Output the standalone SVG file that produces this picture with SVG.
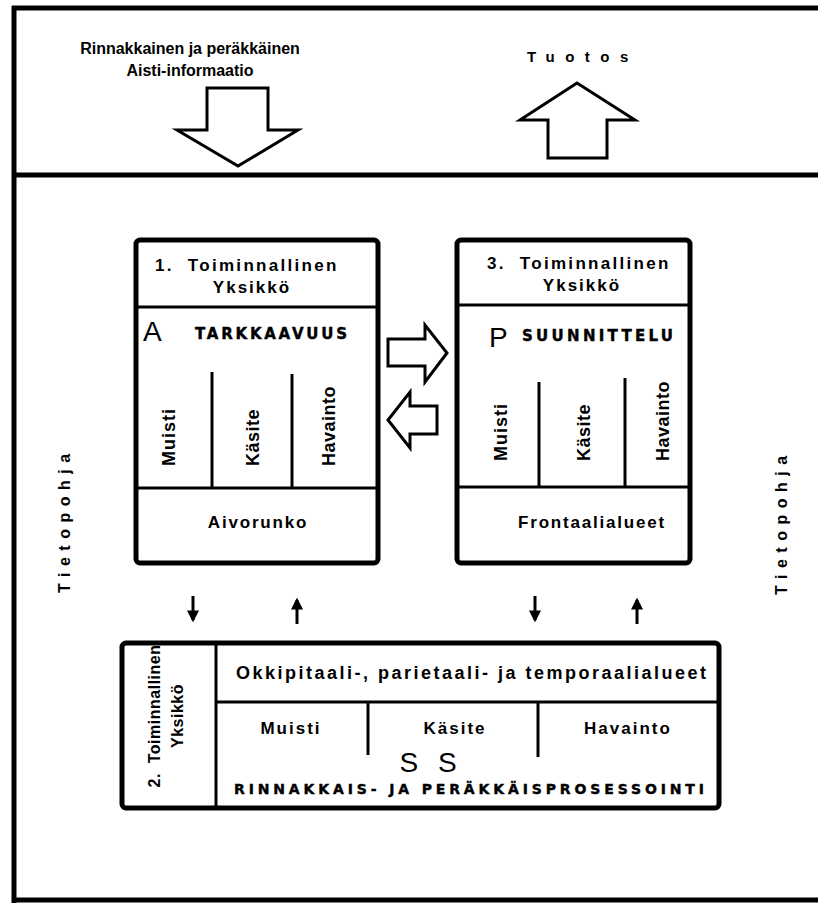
<svg xmlns="http://www.w3.org/2000/svg" width="818" height="903" viewBox="0 0 818 903">
<style>
.t{font-family:"Liberation Sans",Arial,sans-serif;fill:#000}
.b{font-weight:bold}
.k{font-family:"DejaVu Sans","Liberation Sans",sans-serif;font-weight:bold;fill:#000;stroke:#000;stroke-width:0.4}
.frame{fill:none;stroke:#000;stroke-width:5}
.box{fill:#fff;stroke:#000;stroke-width:5}
.div{stroke:#000;stroke-width:3;fill:none}
.hollow{fill:#fff;stroke:#000;stroke-width:3;stroke-linejoin:miter}
.conn{stroke:#000;stroke-width:3;fill:none}
</style>
<defs>
<marker id="ah" viewBox="0 0 10 10" refX="8" refY="5" markerWidth="4" markerHeight="4.5" orient="auto"><path d="M0,0 L10,5 L0,10 z" fill="#000"/></marker>
</defs>
<rect width="818" height="903" fill="#fff"/>
<g id="frame">
<line class="frame" x1="12" y1="8" x2="818" y2="8"/>
<line class="frame" x1="14" y1="6" x2="14" y2="903"/>
<line class="frame" x1="12" y1="175" x2="818" y2="175"/>
<line class="frame" x1="12" y1="900" x2="818" y2="900"/>
</g>
<g id="input">
<text class="t b" x="190" y="54" font-size="16" text-anchor="middle">Rinnakkainen ja peräkkäinen</text>
<text class="t b" x="190" y="76" font-size="16" text-anchor="middle">Aisti-informaatio</text>
<path class="hollow" d="M207,88 H268 V130 H298 L238,166 L177,130 H207 Z"/>
</g>
<g id="output">
<text class="t b" x="527" y="62" font-size="15" letter-spacing="10.5">Tuotos</text>
<path class="hollow" d="M548,158 V120 H520 L577,83 L635,120 H607 V158 Z"/>
</g>
<g id="tietopohja-left">
<text class="t b" font-size="16" letter-spacing="6.5" transform="translate(70,593) rotate(-90)">Tietopohja</text>
</g>
<g id="tietopohja-right">
<text class="t b" font-size="16" letter-spacing="6.5" transform="translate(787,595) rotate(-90)">Tietopohja</text>
</g>
<g id="unit1">
<rect class="box" x="136" y="240" width="242" height="323" rx="4"/>
<line class="div" x1="136" y1="307" x2="378" y2="307"/>
<line class="div" x1="136" y1="488" x2="378" y2="488"/>
<line class="div" x1="212" y1="372" x2="212" y2="488"/>
<line class="div" x1="292" y1="374" x2="292" y2="488"/>
<text class="t b" x="155" y="271" font-size="17" letter-spacing="2.3" xml:space="preserve">1.  Toiminnallinen</text>
<text class="t b" x="252" y="293" font-size="17" letter-spacing="2" text-anchor="middle">Yksikkö</text>
<text class="t" x="143" y="341" font-size="28">A</text>
<text class="k" x="195" y="339" font-size="15" textLength="152" lengthAdjust="spacing">TARKKAAVUUS</text>
<text class="t b" font-size="18" letter-spacing="1" transform="translate(175,466) rotate(-90)">Muisti</text>
<text class="t b" font-size="18" letter-spacing="0.5" transform="translate(259,466) rotate(-90)">Käsite</text>
<text class="t b" font-size="18" letter-spacing="0.5" transform="translate(335,466) rotate(-90)">Havainto</text>
<text class="t b" x="258" y="528" font-size="17" letter-spacing="1.8" text-anchor="middle">Aivorunko</text>
</g>
<g id="unit3">
<rect class="box" x="457" y="240" width="233" height="323" rx="4"/>
<line class="div" x1="457" y1="305" x2="690" y2="305"/>
<line class="div" x1="457" y1="487" x2="690" y2="487"/>
<line class="div" x1="539" y1="382" x2="539" y2="487"/>
<line class="div" x1="625" y1="378" x2="625" y2="487"/>
<text class="t b" x="487" y="269" font-size="17" letter-spacing="2.3" xml:space="preserve">3.  Toiminnallinen</text>
<text class="t b" x="582" y="291" font-size="17" letter-spacing="2" text-anchor="middle">Yksikkö</text>
<text class="t" x="489" y="347" font-size="28">P</text>
<text class="k" x="522" y="341" font-size="15" textLength="151" lengthAdjust="spacing">SUUNNITTELU</text>
<text class="t b" font-size="18" letter-spacing="1" transform="translate(507,461) rotate(-90)">Muisti</text>
<text class="t b" font-size="18" letter-spacing="0.5" transform="translate(590,461) rotate(-90)">Käsite</text>
<text class="t b" font-size="18" letter-spacing="0.5" transform="translate(669,461) rotate(-90)">Havainto</text>
<text class="t b" x="592" y="528" font-size="17" letter-spacing="1.8" text-anchor="middle">Frontaalialueet</text>
</g>
<g id="unit2">
<rect class="box" x="122" y="643" width="597" height="165" rx="4"/>
<line class="div" x1="216" y1="643" x2="216" y2="808"/>
<line class="div" x1="216" y1="702" x2="719" y2="702"/>
<line class="div" x1="368" y1="702" x2="368" y2="755"/>
<line class="div" x1="538" y1="702" x2="538" y2="757"/>
<text class="t b" font-size="16" letter-spacing="0.5" text-anchor="middle" transform="translate(160,716) rotate(-90)" xml:space="preserve"><tspan x="0" y="0">2.  Toiminnallinen</tspan><tspan x="0" y="23">Yksikkö</tspan></text>
<text class="t b" x="236" y="679" font-size="18" textLength="470" lengthAdjust="spacing">Okkipitaali-, parietaali- ja temporaalialueet</text>
<text class="t b" x="291" y="734" font-size="17" letter-spacing="2" text-anchor="middle">Muisti</text>
<text class="t b" x="455" y="734" font-size="17" letter-spacing="2" text-anchor="middle">Käsite</text>
<text class="t b" x="628" y="734" font-size="17" letter-spacing="2" text-anchor="middle">Havainto</text>
<text class="t" x="431" y="772" font-size="28" letter-spacing="6" text-anchor="middle">S S</text>
<text class="k" x="234" y="794" font-size="14" textLength="470" lengthAdjust="spacing">RINNAKKAIS- JA PERÄKKÄISPROSESSOINTI</text>
</g>
<g id="connectors">
<path class="hollow" d="M388,339 H425 V325 L447,353 L425,382 V366 H388 Z"/>
<path class="hollow" d="M437,406 H410 V392 L388,420 L410,448 V434 H437 Z"/>
<line class="conn" x1="193" y1="596" x2="193" y2="620" marker-end="url(#ah)"/>
<line class="conn" x1="297" y1="624" x2="297" y2="600" marker-end="url(#ah)"/>
<line class="conn" x1="535" y1="596" x2="535" y2="620" marker-end="url(#ah)"/>
<line class="conn" x1="637" y1="624" x2="637" y2="600" marker-end="url(#ah)"/>
</g>
</svg>
